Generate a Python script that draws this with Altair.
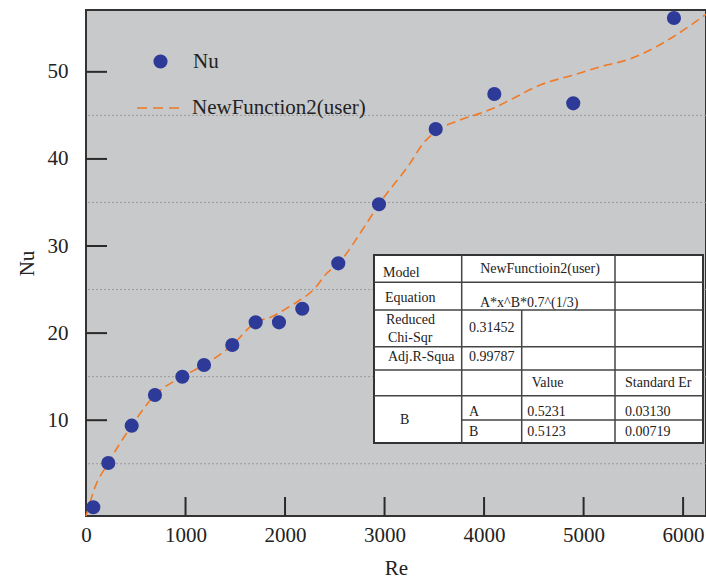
import altair as alt
import pandas as pd

# ---------------- data ----------------
re_pts = [73, 224, 459, 693, 968, 1186, 1470, 1705, 1939, 2173, 2535, 2944, 3514, 4103, 4896, 5908]
nu_pts = [0.0, 5.08, 9.37, 12.89, 14.99, 16.34, 18.63, 21.24, 21.24, 22.80, 28.01, 34.79, 43.43, 47.45, 46.38, 56.18]

re_fit = [0, 40, 73, 224, 459, 693, 968, 1186, 1470, 1705, 1866, 2017, 2150, 2284, 2419, 2535,
          2820, 2944, 3256, 3389, 3490, 3758, 3959, 4093, 4260, 4562, 4896, 5232, 5433, 5667, 5901, 6230]
nu_fit = [-1.0, 0.5, 1.76, 5.08, 9.37, 12.89, 14.99, 16.34, 18.63, 21.24, 21.88, 22.85, 23.80, 24.95, 26.87, 28.01,
          32.61, 34.79, 39.49, 41.79, 42.94, 44.46, 45.23, 45.81, 46.76, 48.48, 49.63, 50.78, 51.35, 52.50, 54.03, 56.6]

x_ticks = [0, 1000, 2000, 3000, 4000, 5000, 6000]
y_ticks = [10, 20, 30, 40, 50]
y_grid = [5, 15, 25, 35, 45]

series_pts = "Nu"
series_fit = "NewFunction2(user)"

table_row1 = ["Model", "NewFunctioin2(user)"]
table_row2 = ["Equation", "A*x^B*0.7^(1/3)"]
table_row3 = ["Reduced", "Chi-Sqr", "0.31452"]
table_row4 = ["Adj.R-Squa", "0.99787"]
table_row5 = ["Value", "Standard Er"]
table_row6 = ["B", "A", "0.5231", "0.03130"]
table_row7 = ["B", "0.5123", "0.00719"]

# ---------------- styling / layout ----------------
W, H = 620, 506
FONT = "Liberation Serif, Times New Roman, Times, DejaVu Serif, serif"
BLUE = "#2d3a98"
ORANGE = "#f07a26"

df_pts = pd.DataFrame({"Re": re_pts, "Nu": nu_pts, "series": series_pts})
df_fit = pd.DataFrame({"Re": re_fit, "Nu": nu_fit, "series": series_fit})
df_xt = pd.DataFrame({"Re": x_ticks[1:]})
df_yt = pd.DataFrame({"Nu": y_ticks})
df_yg = pd.DataFrame({"Nu": y_grid})

xs = alt.Scale(domain=[0, 6230], nice=False, zero=False)
ys = alt.Scale(domain=[-1, 57.1], nice=False, zero=False)
xaxis = alt.Axis(values=x_ticks, title="Re", format="d", labelPadding=8, titlePadding=12,
                 labelFlush=False)
yaxis = alt.Axis(values=y_ticks, title="Nu", format="d", labelPadding=18, titlePadding=10,
                 labelFlush=False)

X = alt.X("Re:Q", scale=xs, axis=xaxis)
Y = alt.Y("Nu:Q", scale=ys, axis=yaxis)

grid = alt.Chart(df_yg).mark_rule(color="#9b9b9b", strokeWidth=1, strokeDash=[2, 2]).encode(y=Y)

yticks = alt.Chart(df_yt).mark_rule(color="#2a2a2a", strokeWidth=2).encode(
    y=Y, x=alt.value(0), x2=alt.value(21))
xticks = alt.Chart(df_xt).mark_rule(color="#2a2a2a", strokeWidth=2).encode(
    x=X, y=alt.value(H), y2=alt.value(H - 19))

line = alt.Chart(df_fit).mark_line(strokeDash=[9, 5], strokeWidth=1.6, interpolate="monotone").encode(
    x=X, y=Y,
    stroke=alt.Stroke("series:N", scale=alt.Scale(domain=[series_fit], range=[ORANGE]),
                      legend=alt.Legend(orient="none", legendX=50, legendY=74, title=None,
                                        symbolType="stroke", symbolSize=2116, symbolStrokeWidth=1.6,
                                        symbolDash=[10, 6], labelFont=FONT, labelFontSize=21,
                                        labelColor="#222", labelOffset=8, labelLimit=0, padding=0)))

pts = alt.Chart(df_pts).mark_circle(size=200, opacity=1).encode(
    x=X, y=Y,
    color=alt.Color("series:N", scale=alt.Scale(domain=[series_pts], range=[BLUE]),
                    legend=alt.Legend(orient="none", legendX=64, legendY=41, title=None,
                                      symbolType="circle", symbolSize=200, symbolStrokeWidth=0,
                                      symbolOpacity=1,
                                      labelFont=FONT, labelFontSize=21, labelColor="#222",
                                      labelOffset=22, labelLimit=0, padding=0)))

# ---------------- inset results table ----------------
one = alt.Data(values=[{"a": 1}])
tbl_layers = []
tbl_layers.append(alt.Chart(one).mark_rect(fill="white", stroke="#333", strokeWidth=2).encode(
    x=alt.value(288), x2=alt.value(617), y=alt.value(245), y2=alt.value(433)))

v_lines = [(375.7, 245, 433), (435.7, 300, 433), (529, 245, 433)]
h_lines = [(272.3, 288, 617), (300, 288, 617), (336.7, 288, 617), (360, 288, 617),
           (385.7, 288, 617), (410, 375.7, 617)]
for xv, y1, y2 in v_lines:
    tbl_layers.append(alt.Chart(one).mark_rule(color="#444", strokeWidth=1.5).encode(
        x=alt.value(xv), y=alt.value(y1), y2=alt.value(y2)))
for yv, x1, x2 in h_lines:
    tbl_layers.append(alt.Chart(one).mark_rule(color="#444", strokeWidth=1.5).encode(
        y=alt.value(yv), x=alt.value(x1), x2=alt.value(x2)))

texts = [
    (table_row1[0], 297, 263, "left"),
    (table_row1[1], 454, 259, "center"),
    (table_row2[0], 299, 287.7, "left"),
    (table_row2[1], 394, 292.7, "left"),
    (table_row3[0], 300, 310, "left"),
    (table_row3[1], 302, 328, "left"),
    (table_row3[2], 383, 318, "left"),
    (table_row4[0], 302, 346.7, "left"),
    (table_row4[1], 383, 346.7, "left"),
    (table_row5[0], 445.7, 373.3, "left"),
    (table_row5[1], 539, 373.3, "left"),
    (table_row6[0], 314, 410, "left"),
    (table_row6[1], 383, 402.3, "left"),
    (table_row6[2], 441.3, 402.3, "left"),
    (table_row6[3], 539, 402.3, "left"),
    (table_row7[0], 383, 421.7, "left"),
    (table_row7[1], 441.3, 421.7, "left"),
    (table_row7[2], 539, 421.7, "left"),
]
for txt, tx, ty, al in texts:
    tbl_layers.append(alt.Chart(one).mark_text(font=FONT, fontSize=14, color="#222", align=al,
                                              baseline="middle", text=txt).encode(
        x=alt.value(tx), y=alt.value(ty)))

chart = alt.layer(grid, line, pts, yticks, xticks, *tbl_layers).properties(
    width=W, height=H,
    autosize=alt.AutoSizeParams(type="none"),
    padding={"left": 86, "top": 10, "right": 0, "bottom": 62},
    background="white",
).resolve_scale(color="independent").configure_view(
    fill="#c8c9cb", stroke="#333", strokeWidth=2
).configure_axis(
    domain=False, ticks=False, tickSize=0, grid=False,
    labelFont=FONT, labelFontSize=21, labelColor="#222",
    titleFont=FONT, titleFontSize=21, titleFontWeight="normal", titleColor="#222",
)

chart.save("out.html", embed_options={"renderer": "svg", "actions": False})
